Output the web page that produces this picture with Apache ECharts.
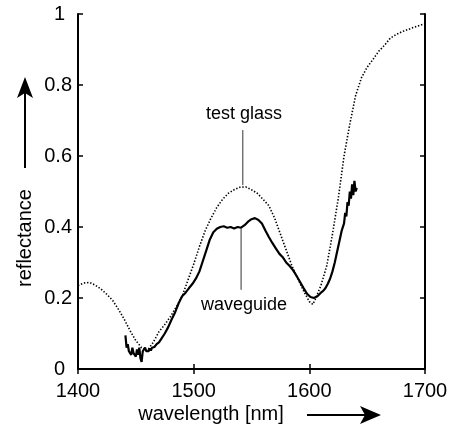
<!DOCTYPE html>
<html lang="en">
<head>
    <meta charset="UTF-8">
    <title>reflectance</title>
    <script src="https://cdn.jsdelivr.net/npm/echarts@6/dist/echarts.min.js"></script>
    <style type="text/css">
    html, body { margin:0; padding:0; background:#fff; }
    #chart { width:455px; height:430px; }
    </style>
</head>
<body>
<div id="chart"></div>
<script type="text/javascript">
    // test glass (dotted)
    var glassNm = [1400,1405,1410,1415,1420,1425,1430,1435,1440,1445,1450,1455,1460,1465,1470,1475,1480,1485,1490,1495,
        1500,1505,1510,1515,1520,1525,1530,1535,1540,1545,1550,1555,1560,1565,1570,1575,1580,1585,1590,1595,
        1600,1603,1605,1610,1615,1620,1625,1630,1635,1640,1645,1650,1655,1660,1665,1670,1675,1680,1690,1700];
    var glassR = [0.235,0.242,0.244,0.236,0.225,0.21,0.193,0.168,0.14,0.108,0.08,0.06,0.052,0.075,0.105,0.125,0.148,0.175,0.205,0.25,
        0.295,0.345,0.39,0.425,0.455,0.478,0.495,0.505,0.512,0.513,0.505,0.495,0.478,0.46,0.425,0.38,0.335,0.29,0.255,0.22,
        0.19,0.182,0.195,0.235,0.29,0.38,0.48,0.6,0.69,0.77,0.82,0.85,0.872,0.895,0.912,0.932,0.942,0.95,0.962,0.973];

    // waveguide (solid)
    var guideNm = [1441,1442,1443,1444,1445,1446,1447,1448,1449,1450,1451,1452,1453,1454,1455,1456,1457,1458,1459,1460,
        1461,1462,1463,1464,1466,1468,1470,1472,1475,1478,1481,1484,1487,1490,1493,1496,1499,1502,1505,1508,
        1511,1514,1517,1520,1523,1526,1529,1532,1535,1538,1541,1544,1547,1550,1553,1556,1559,1562,1565,1568,
        1571,1574,1577,1580,1583,1586,1589,1592,1595,1598,1601,1604,1607,1610,1612,1614,1616,1618,1620,1622,
        1624,1626,1628,1630,1631,1632,1633,1634,1635,1636,1637,1638,1639,1640,1641];
    var guideR = [0.095,0.06,0.07,0.05,0.055,0.04,0.06,0.045,0.05,0.035,0.055,0.04,0.06,0.03,0.02,0.05,0.045,0.06,0.05,0.055,
        0.05,0.058,0.052,0.06,0.062,0.07,0.075,0.085,0.1,0.118,0.14,0.16,0.185,0.205,0.215,0.228,0.24,0.255,0.275,0.305,
        0.335,0.365,0.385,0.395,0.4,0.402,0.398,0.4,0.396,0.4,0.398,0.405,0.415,0.422,0.425,0.42,0.41,0.39,0.372,0.355,
        0.34,0.325,0.315,0.3,0.29,0.278,0.262,0.245,0.228,0.212,0.203,0.2,0.205,0.215,0.22,0.228,0.24,0.255,0.275,0.3,
        0.33,0.36,0.39,0.41,0.44,0.43,0.47,0.46,0.5,0.48,0.52,0.49,0.53,0.5,0.51];

    // annotations: label, text position, leader line
    var noteText = ['test glass', 'waveguide'];
    var notePos = [[1544, 0.718], [1544, 0.178]];
    var noteLines = [[[1542.5, 0.673], [1542.5, 0.518]], [[1541, 0.397], [1541, 0.223]]];

    var xTicks = [1400, 1500, 1600, 1700];
    var yTicks = [0, 0.2, 0.4, 0.6, 0.8, 1];

    function zip(a, b) {
        var out = [];
        for (var i = 0; i < a.length; i++) out.push([a[i], b[i]]);
        return out;
    }

    var FONT = '"Liberation Sans", Arial, Helvetica, sans-serif';
    var myChart = echarts.init(document.getElementById('chart'));

    var frameAxis = {
        axisLine: { show: true, lineStyle: { color: '#000', width: 2 } },
        axisTick: { show: true, inside: true, length: 5, lineStyle: { color: '#000', width: 1.5 } },
        splitLine: { show: false }
    };

    var series = [
        {
            type: 'line', data: zip(glassNm, glassR), showSymbol: false, silent: true,
            lineStyle: { color: '#000', width: 1.6, type: [1.4, 1.8] }
        },
        {
            type: 'line', data: zip(guideNm, guideR), showSymbol: false, silent: true,
            lineStyle: { color: '#000', width: 2.2 }
        },
        {
            type: 'scatter', symbolSize: 1, silent: true,
            itemStyle: { color: 'rgba(0,0,0,0)', opacity: 1 },
            data: notePos.map(function (p, i) { return { name: noteText[i], value: p }; }),
            label: {
                show: true, position: [0, 0], align: 'center', verticalAlign: 'middle',
                formatter: '{b}', fontFamily: FONT, fontSize: 18, color: '#000'
            }
        }
    ];
    noteLines.forEach(function (seg) {
        series.push({
            type: 'line', data: seg, showSymbol: false, silent: true,
            lineStyle: { color: '#333', width: 1 }
        });
    });

    option = {
        animation: false,
        grid: { left: 78, right: 30, top: 14, bottom: 61, containLabel: false, outerBoundsMode: 'none' },
        xAxis: [
            Object.assign({
                type: 'value', min: xTicks[0], max: xTicks[xTicks.length - 1], interval: 100, position: 'bottom',
                axisLabel: { margin: 12, fontFamily: FONT, fontSize: 20, color: '#000',
                    formatter: function (v) { return String(v); } }
            }, frameAxis),
            Object.assign({
                type: 'value', min: xTicks[0], max: xTicks[xTicks.length - 1], interval: 100, position: 'top',
                axisLabel: { show: false }
            }, frameAxis)
        ],
        yAxis: [
            Object.assign({
                type: 'value', min: yTicks[0], max: yTicks[yTicks.length - 1], interval: 0.2, position: 'left',
                axisLabel: {
                    margin: 6, fontFamily: FONT, fontSize: 20, color: '#000',
                    formatter: function (v) {
                        if (v === 0 || v === 1) return '{p|' + v + '}';
                        return v.toFixed(1);
                    },
                    rich: { p: { padding: [0, 7, 0, 0], fontFamily: FONT, fontSize: 20, color: '#000' } }
                }
            }, frameAxis),
            Object.assign({
                type: 'value', min: yTicks[0], max: yTicks[yTicks.length - 1], interval: 0.2, position: 'right',
                axisLabel: { show: false }
            }, frameAxis)
        ],
        graphic: [
            // y title with arrow
            { type: 'text', x: 25, y: 238, rotation: Math.PI / 2,
              style: { text: 'reflectance', font: '20px ' + FONT, fill: '#000', align: 'center', verticalAlign: 'middle' } },
            { type: 'line', shape: { x1: 25, y1: 168, x2: 25, y2: 92 }, style: { stroke: '#000', lineWidth: 2 } },
            { type: 'polygon', shape: { points: [[25, 77], [33, 98], [25, 93], [17, 98]] }, style: { fill: '#000' } },
            // x title with arrow
            { type: 'text', x: 211, y: 414,
              style: { text: 'wavelength [nm]', font: '20px ' + FONT, fill: '#000', align: 'center', verticalAlign: 'middle' } },
            { type: 'line', shape: { x1: 307, y1: 415, x2: 366, y2: 415 }, style: { stroke: '#000', lineWidth: 2 } },
            { type: 'polygon', shape: { points: [[381, 415], [360, 406], [365, 415], [360, 424]] }, style: { fill: '#000' } }
        ],
        series: series
    };
    myChart.setOption(option);
</script>
</body>
</html>
